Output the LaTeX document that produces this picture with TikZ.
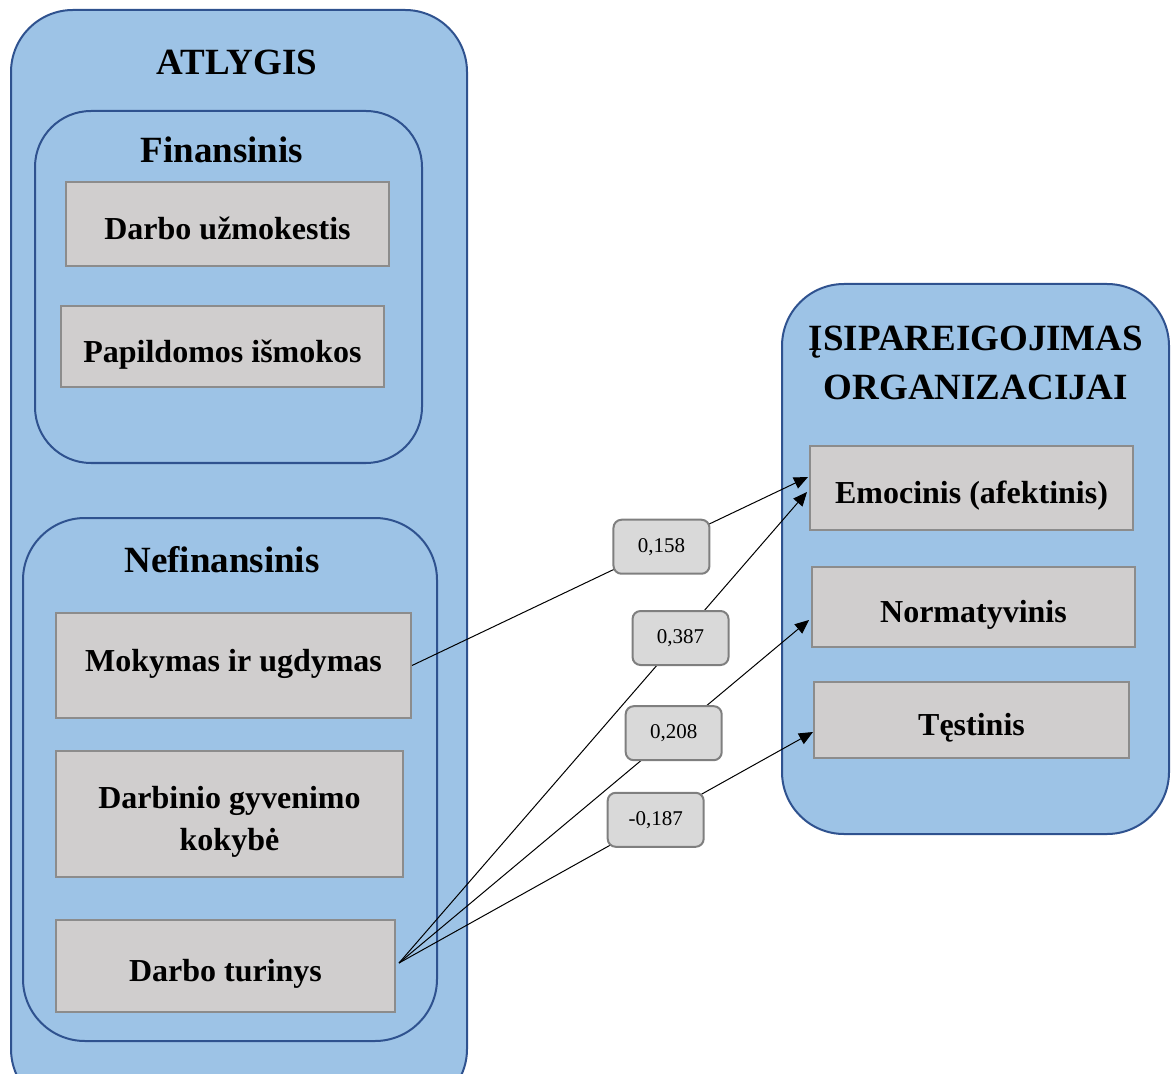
\documentclass[tikz,border=0pt]{standalone}
\usepackage{fontspec}
\setmainfont{Liberation Serif}
\usetikzlibrary{arrows.meta,positioning,calc}

\definecolor{grpfill}{HTML}{9DC3E6}
\definecolor{grpline}{HTML}{2F528F}
\definecolor{boxfill}{HTML}{D0CECE}
\definecolor{boxline}{HTML}{8C8C8C}
\definecolor{wfill}{HTML}{D9D9D9}
\definecolor{wline}{HTML}{7F7F7F}

\begin{document}
\begin{tikzpicture}[
            x=0.5pt, y=-0.5pt,
            group/.style={draw=grpline, fill=grpfill, line width=1pt, rounded corners=31pt, anchor=north west, inner sep=0pt},
            heading/.style={font=\fontsize{18.5}{24.5}\selectfont\bfseries, align=center},
            itembox/.style={draw=boxline, fill=boxfill, line width=1pt, minimum width=161.5pt, minimum height=42pt, align=center, text height=15.6pt, text depth=0pt, font=\fontsize{16}{21}\selectfont\bfseries},
            weight/.style={draw=wline, fill=wfill, line width=1pt, rounded corners=4pt, minimum width=48pt, minimum height=27pt, font=\fontsize{10.5}{12}\selectfont},
            arrow/.style={-{Triangle[length=7pt, width=6pt]}, line width=0.5pt},
            node distance=19pt
        ]

        \clip (0,0) rectangle (1171,1074);

        % reward side
        \node[group, minimum width=228pt, minimum height=550.5pt] (atlygis) at (10,9) {};
        \node[heading] (atlt) at (237,62) {ATLYGIS};

        \node[group, minimum width=193.5pt, minimum height=176pt, rounded corners=28pt] (fin) at (34,110) {};
        \node[heading] (fint) at (222,150) {Finansinis};
        \node[itembox] (uzm) at (227.5,224) {Darbo užmokestis};
        \node[itembox, minimum height=40.5pt, below=19pt of uzm, xshift=-2.5pt] (ism) {Papildomos išmokos};

        \node[group, minimum width=207pt, minimum height=261.5pt] (nefin) at (22,517) {};
        \node[heading] (nefint) at (222,560) {Nefinansinis};
        \node[itembox, minimum width=177.5pt, minimum height=52.5pt, text height=5.6pt] (mok) at (233.5,665.5) {Mokymas ir ugdymas};
        \node[itembox, minimum width=173.5pt, minimum height=63pt, text height=36.6pt] (dgk) at (229.5,814) {Darbinio gyvenimo\\kokybė};
        \node[itembox, minimum width=169.5pt, minimum height=46pt] (dt) at (225.5,966) {Darbo turinys};

        % commitment side
        \node[group, minimum width=193.5pt, minimum height=275pt] (isip) at (781,283) {};
        \node[heading] (isipt) at (976,363) {ĮSIPAREIGOJIMAS\\ORGANIZACIJAI};
        \node[itembox] (emo) at (971.5,488) {Emocinis (afektinis)};
        \node[itembox, minimum height=40pt] (norm) at (973.5,607) {Normatyvinis};
        \node[itembox, minimum width=157.5pt, minimum height=38pt] (tes) at (971.5,720) {Tęstinis};

        \coordinate (src) at ($(dt.east)+(3,-3)$);

        \draw[arrow] (mok.east) -- node[weight, pos=0.63] (w1) {0,158} ($(emo.west)+(-1,-11)$);
        \draw[arrow] (src) -- node[weight, pos=0.69] (w2) {0,387} ($(emo.west)+(-2,4)$);
        \draw[arrow] (src) -- node[weight, pos=0.67] (w3) {0,208} ($(norm.west)+(-2,13)$);
        \draw[arrow] (src) -- node[weight, pos=0.62] (w4) {-0,187} ($(tes.west)+(0,12)$);

    \end{tikzpicture}
\end{document}
